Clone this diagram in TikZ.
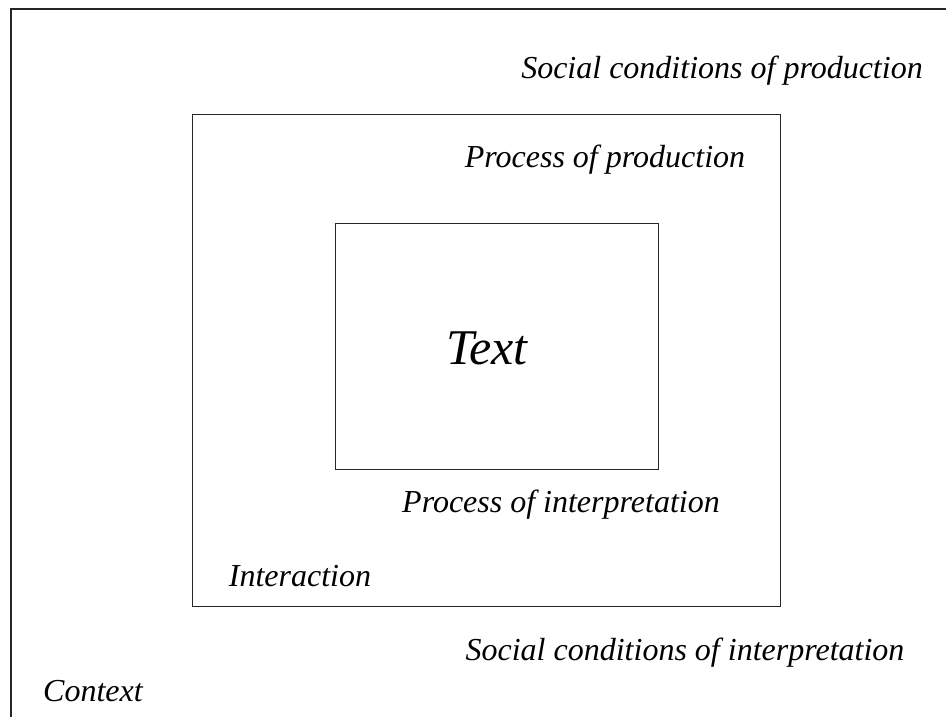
\documentclass[tikz,border=0pt]{standalone}
\usepackage{fontspec}
\setmainfont{Liberation Serif}
\begin{document}
\begin{tikzpicture}[x=1pt,y=-1pt,
  frame/.style={draw=black!85,line width=1.3pt},
  lab/.style={font=\fontsize{32}{38}\selectfont\itshape,inner sep=0pt,anchor=center},
  biglab/.style={font=\fontsize{50}{58}\selectfont\itshape,inner sep=0pt,anchor=center}]
\useasboundingbox (0,0) rectangle (947,717);
\draw[frame] (11,717) -- (11,9) -- (946,9);
\node[frame,minimum width=588pt,minimum height=492pt,inner sep=0pt,anchor=north west] (mid) at (192,114) {};
\node[frame,minimum width=323pt,minimum height=246pt,inner sep=0pt,anchor=north west] (inner) at (335,223) {};
\node[biglab] (text) at (487,348) {Text};
\node[lab] (scp) at (722,71) {Social conditions of production};
\node[lab] (pp) at (605,160) {Process of production};
\node[lab] (pi) at (561,505) {Process of interpretation};
\node[lab] (int) at (300,576) {Interaction};
\node[lab] (sci) at (685,653) {Social conditions of interpretation};
\node[lab] (ctx) at (93,691) {Context};
\end{tikzpicture}
\end{document}
